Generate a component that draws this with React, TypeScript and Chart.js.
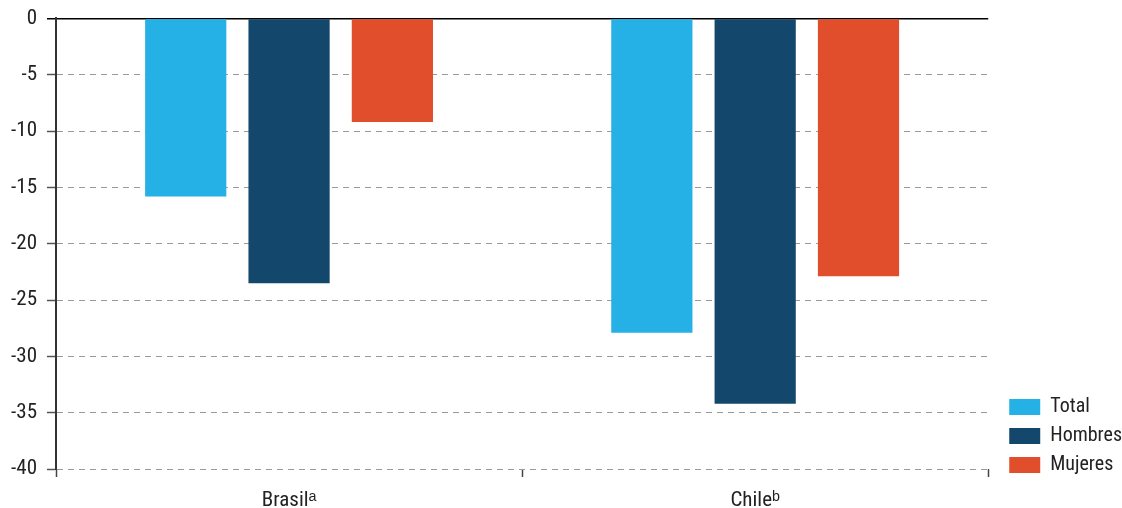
import React, { useEffect, useRef } from "react";
import { Chart, registerables } from "chart.js";

Chart.register(...registerables);

const categories = ["Brasil\u1d43", "Chile\u1d47"];
const seriesNames = ["Total", "Hombres", "Mujeres"];
const totalValues = [-15.8, -27.9];
const hombresValues = [-23.5, -34.2];
const mujeresValues = [-9.2, -22.9];
const seriesColors = ["#25b0e6", "#13486c", "#e14e2c"];

const FONT = "'Liberation Sans Narrow', 'Roboto Condensed', 'Arial Narrow', Roboto, sans-serif";

const legendShift = {
  id: "legendShift",
  afterLayout(chart: any) {
    const l = chart.legend;
    if (!l) return;
    l.left += 12;
    l.right += 12;
    l.top += 15;
    l.bottom += 15;
  },
};

export default function App() {
  const ref = useRef<HTMLCanvasElement | null>(null);
  useEffect(() => {
    if (!ref.current) return;
    const chart = new Chart(ref.current, {
      type: "bar",
      data: {
        labels: categories,
        datasets: [totalValues, hombresValues, mujeresValues].map((d, i) => ({
          label: seriesNames[i],
          data: d,
          backgroundColor: seriesColors[i],
          borderWidth: 0,
          categoryPercentage: 0.665,
          barPercentage: 0.786,
        })),
      },
      plugins: [legendShift],
      options: {
        animation: false,
        responsive: true,
        maintainAspectRatio: false,
        layout: { padding: { top: 17, right: 2, bottom: 0, left: 0 } },
        plugins: {
          tooltip: { enabled: false },
          legend: {
            position: "right",
            align: "end",
            fullSize: false,
            labels: {
              boxWidth: 31,
              boxHeight: 16,
              padding: 9,
              color: "#222",
              font: { family: FONT, size: 20 },
            },
          },
        },
        scales: {
          x: {
            afterFit: (scale: any) => {
              scale.height = 39;
            },
            grid: {
              drawOnChartArea: false,
              drawTicks: true,
              tickLength: 8,
              tickColor: "#444",
              tickWidth: 1.5,
            },
            border: { display: false },
            ticks: {
              color: "#222",
              padding: 11,
              font: { family: FONT, size: 21 },
            },
          },
          y: {
            min: -40,
            max: 0,
            afterFit: (scale: any) => {
              scale.width = 56;
            },
            ticks: {
              stepSize: 5,
              color: "#222",
              padding: 10,
              font: { family: FONT, size: 21, lineHeight: 0.8 },
            },
            grid: {
              color: (ctx: any) => (ctx.tick && ctx.tick.value === 0 ? "#000" : "#9a9a9a"),
              lineWidth: (ctx: any) => (ctx.tick && ctx.tick.value === 0 ? 1.5 : 1),
              tickLength: 9,
              tickColor: (ctx: any) => (ctx.tick && ctx.tick.value === 0 ? "#000" : "#555"),
              tickWidth: 1.5,
            },
            border: {
              display: true,
              color: "#333",
              width: 2,
              dash: (ctx: any) => (ctx.tick && ctx.tick.value === 0 ? [] : [6, 5]),
            },
          },
        },
      },
    });
    return () => chart.destroy();
  }, []);
  return (
    <div style={{ position: "absolute", left: 0, top: 0, width: 1122, height: 508, background: "#fff" }}>
      <canvas ref={ref} />
    </div>
  );
}
